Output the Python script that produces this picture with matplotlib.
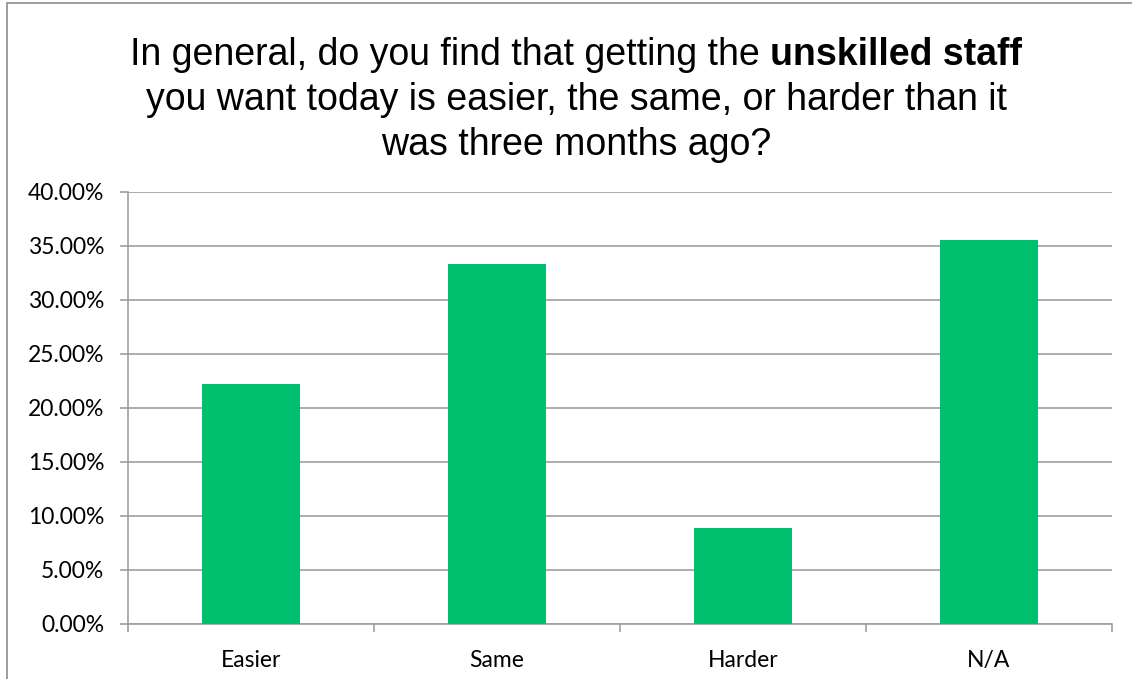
import matplotlib
matplotlib.use("Agg")
import matplotlib.pyplot as plt
from matplotlib.ticker import FuncFormatter, FixedLocator
from matplotlib.patches import Rectangle

categories = ["Easier", "Same", "Harder", "N/A"]
values = [22.22, 33.33, 8.89, 35.56]
yticks = [0, 5, 10, 15, 20, 25, 30, 35, 40]

W, H, DPI = 1132, 679, 100
fig = plt.figure(figsize=(W / DPI, H / DPI), dpi=DPI)
fig.patch.set_facecolor("white")

# outer chart border
fig.add_artist(Rectangle((7 / W, -0.01), (W + 5) / W, 1.01 - 3 / H, transform=fig.transFigure,
                         fill=False, edgecolor="#8c8c8c", linewidth=1.2))

ax = fig.add_axes([128 / W, 1 - 624 / H, (1112 - 128) / W, (624 - 192) / H])
x = list(range(len(categories)))
ax.bar(x, values, width=0.4, color="#00BF6F", zorder=3)
ax.set_xlim(-0.5, len(categories) - 0.5)
ax.set_ylim(0, 40)
ax.yaxis.set_major_locator(FixedLocator(yticks))
ax.yaxis.set_major_formatter(FuncFormatter(lambda v, p: f"{v:.2f}%"))
ax.set_xticks(x)
ax.set_xticklabels(categories)
ax.set_xticks([i - 0.5 for i in range(len(categories) + 1)], minor=True)
ax.grid(axis="y", color="#a0a0a0", linewidth=1.2, zorder=0)
for s in ["top", "right"]:
    ax.spines[s].set_visible(False)
for s in ["left", "bottom"]:
    ax.spines[s].set_color("#a0a0a0")
    ax.spines[s].set_linewidth(1.2)
ax.tick_params(axis="y", length=6, color="#a0a0a0", width=1.2, labelsize=16.5, pad=11)
ax.tick_params(axis="x", which="major", length=0, labelsize=16.5, pad=19)
ax.tick_params(axis="x", which="minor", length=6, color="#a0a0a0", width=1.2)
for lab in ax.get_yticklabels() + ax.get_xticklabels():
    lab.set_fontfamily("Lato")
    lab.set_color("#000000")

# title
tfs = 27
cx = 576 / W
fam = "Liberation Sans"
part1 = "In general, do you find that getting the "
part2 = "unskilled staff"
y1 = 1 - 55 / H
t1 = fig.text(0, y1, part1, fontsize=tfs, family=fam, va="center", ha="left")
t2 = fig.text(0, y1, part2, fontsize=tfs, family=fam, weight="bold", va="center", ha="left")
fig.canvas.draw()
r = fig.canvas.get_renderer()
w1 = t1.get_window_extent(r).width
w2 = t2.get_window_extent(r).width
start = cx * W - (w1 + w2) / 2
t1.set_x(start / W)
t2.set_x((start + w1) / W)
fig.text(cx, 1 - 100 / H, "you want today is easier, the same, or harder than it",
         fontsize=tfs, family=fam, va="center", ha="center")
fig.text(cx, 1 - 145 / H, "was three months ago?",
         fontsize=tfs, family=fam, va="center", ha="center")

fig.savefig("out.png", dpi=DPI)
